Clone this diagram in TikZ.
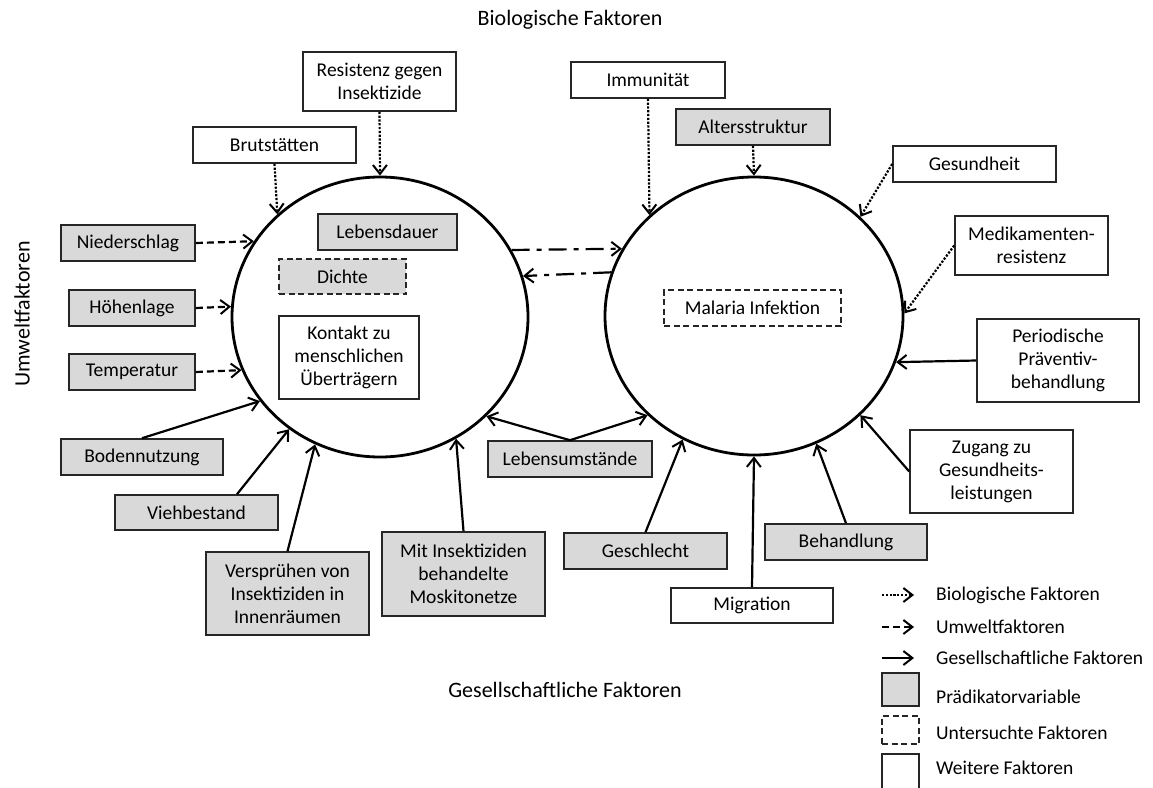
\documentclass[tikz,border=0pt]{standalone}
\usepackage{fontspec}
\setmainfont{Carlito}
\usetikzlibrary{arrows.meta,shapes.geometric,calc}
\begin{document}
\begin{tikzpicture}[x=1pt,y=-1pt,
  box/.style={draw=black!85,line width=1.6pt,minimum height=36pt,inner sep=0pt,align=center,font=\fontsize{19.5}{23}\selectfont},
  pbox/.style={box,fill=black!15},
  ubox/.style={box,dash pattern=on 6pt off 3.5pt},
  circ/.style={draw,ellipse,line width=2.8pt,inner sep=0pt},
  arr/.style={line width=2.2pt,-{Straight Barb[length=9pt,width=14pt,line width=2pt]}},
  bio/.style={arr,dash pattern=on 2.2pt off 1.6pt},
  umw/.style={arr,dash pattern=on 7pt off 4pt},
  soc/.style={arr},
  link/.style={arr,dash pattern=on 18pt off 7pt on 5pt off 7pt},
  title/.style={font=\fontsize{22}{26}\selectfont,inner sep=0pt},
  legtext/.style={anchor=west,font=\fontsize{19.5}{23}\selectfont,inner sep=0pt}
]
\fill[white] (0,0) rectangle (1153,787);
\useasboundingbox (0,0) rectangle (1153,787);

% titles
\node[title] (tbio) at (570,20) {Biologische Faktoren};
\node[title,rotate=90] (tumw) at (22,314) {Umweltfaktoren};
\node[title] (tges) at (565,690) {Gesellschaftliche Faktoren};

% circles
\node[circ,minimum width=296pt,minimum height=280pt] (L) at (380,317) {};
\node[circ,minimum width=298pt,minimum height=278pt] (R) at (754,316) {};

% inner boxes
\node[pbox,minimum width=139pt] (lebd) at (387.5,232) {Lebensdauer};
\node[pbox,ubox,fill=black!15,minimum width=127pt,minimum height=35pt] (dich) at (342.5,276.5) {Dichte};
\node[box,minimum width=140pt,minimum height=83pt] (kon) at (349,357.5) {Kontakt zu\\menschlichen\\Überträgern};
\node[ubox,minimum width=177pt] (mal) at (752.5,308) {Malaria Infektion};

% top boxes
\node[box,minimum width=153pt,minimum height=59pt] (res) at (379.5,81.5) {Resistenz gegen\\Insektizide};
\node[box,minimum width=163pt] (brut) at (274.5,145) {Brutstätten};
\node[box,minimum width=154pt] (imm) at (648,80) {Immunität};
\node[pbox,minimum width=154pt] (alt) at (753,127) {Altersstruktur};
\node[box,minimum width=163pt] (gesu) at (974.5,164) {Gesundheit};
\node[box,minimum width=153pt,minimum height=59pt] (med) at (1031.5,245.5) {Medikamenten-\\resistenz};

% left boxes
\node[pbox,minimum width=134pt] (nied) at (128,243) {Niederschlag};
\node[pbox,minimum width=126pt] (hoeh) at (132,308) {Höhenlage};
\node[pbox,minimum width=126pt] (temp) at (132,372) {Temperatur};
\node[pbox,minimum width=162pt] (bod) at (142,457) {Bodennutzung};
\node[pbox,minimum width=163pt,minimum height=35pt] (vieh) at (196.5,512.5) {Viehbestand};
\node[pbox,minimum width=163pt,minimum height=83pt] (vers) at (287.5,593.5) {Versprühen von\\Insektiziden in\\Innenräumen};
\node[pbox,minimum width=163pt,minimum height=84pt] (mit) at (463.5,574) {Mit Insektiziden\\behandelte\\Moskitonetze};
\node[pbox,minimum width=164pt] (leb) at (570,459) {Lebensumstände};

% right boxes
\node[pbox,minimum width=163pt] (gesch) at (645.5,551) {Geschlecht};
\node[box,minimum width=162pt,minimum height=35pt] (mig) at (752,605.5) {Migration};
\node[pbox,minimum width=162pt] (beh) at (846,542) {Behandlung};
\node[box,minimum width=163pt,minimum height=83pt] (zug) at (991.5,471.5) {Zugang zu\\Gesundheits-\\leistungen};
\node[box,minimum width=162pt,minimum height=83pt] (per) at (1058,360.5) {Periodische\\Präventiv-\\behandlung};

% biological arrows
\draw[bio] (brut.south) -- (L.135.8);
\draw[bio] (res.south) -- (L.90);
\draw[bio] (imm.south) -- (R.136.7);
\draw[bio] (alt.south) -- (R.90);
\draw[bio] (gesu.west) -- (R.43.6);
\draw[bio] (med.west) -- (R.1);

% environmental arrows
\draw[umw] (nied.east) -- (L.149.8);
\draw[umw] (hoeh.east) -- (L.176.1);
\draw[umw] (temp.east) -- (L.201.5);

% social arrows
\draw[soc] (bod.north) -- (L.215.2);
\draw[soc] ([xshift=40.5pt]vieh.north) -- (L.231.2);
\draw[soc] (vers.north) -- (L.243.3);
\draw[soc] (mit.north) -- (L.302);
\draw[soc] (leb.north) -- (L.317.5);
\draw[soc] (leb.north) -- (R.223);
\draw[soc] (gesch.north) -- (R.240.3);
\draw[soc] (mig.north) -- (R.270);
\draw[soc] (beh.north) -- (R.296.9);
\draw[soc] (zug.west) -- (R.317.2);
\draw[soc] (per.west) -- (R.342.1);

% links between circles
\draw[link] (L.27.3) -- (R.153.3);
\draw[link] (R.163.9) -- (L.16.6);

% legend
\node[legtext] (lt1) at (936,595) {Biologische Faktoren};
\node[legtext] (lt2) at (936,627) {Umweltfaktoren};
\node[legtext] (lt3) at (936,658) {Gesellschaftliche Faktoren};
\node[legtext] (lt4) at (936,697) {Prädikatorvariable};
\node[legtext] (lt5) at (936,733) {Untersuchte Faktoren};
\node[legtext] (lt6) at (936,768) {Weitere Faktoren};
\draw[bio] ([xshift=-54pt]lt1.west) -- ([xshift=-22pt]lt1.west);
\draw[umw] ([xshift=-54pt]lt2.west) -- ([xshift=-22pt]lt2.west);
\draw[soc] ([xshift=-54pt]lt3.west) -- ([xshift=-22pt]lt3.west);
\node[pbox,minimum width=37pt,minimum height=33pt] (lg1) at (900.5,689.5) {};
\node[ubox,minimum width=37pt,minimum height=28pt] (lg2) at (900.5,730) {};
\draw[draw=black!85,line width=1.6pt] (882,790) -- (882,754) -- (919,754) -- (919,790);
\end{tikzpicture}
\end{document}
